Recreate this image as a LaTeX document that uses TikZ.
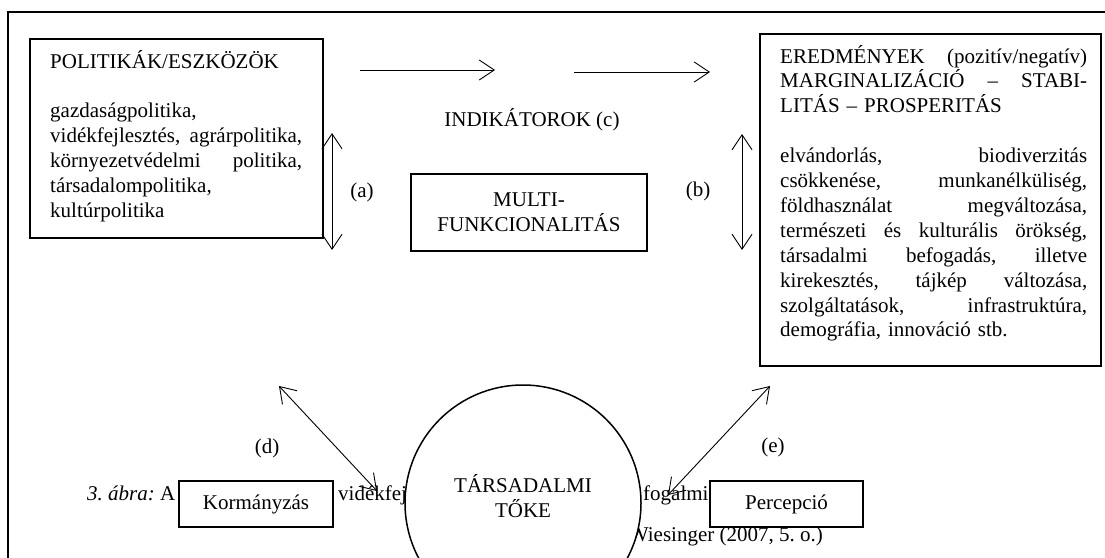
\documentclass[tikz,border=0pt]{standalone}
\usepackage{fontspec}
\setmainfont{Liberation Serif}
\usetikzlibrary{arrows.meta}
\newcommand{\jline}[2]{\makebox[#1][l]{#2}}
\begin{document}
\begin{tikzpicture}[x=1pt,y=-1pt,
  txt/.style={font=\fontsize{21}{24.9}\selectfont\frenchspacing, inner sep=0pt},
  boxline/.style={draw, line width=1.7pt, fill=white, inner sep=0pt},
  arr/.style={line width=0.9pt, -{Straight Barb[length=15pt,width=20pt]}},
  darr/.style={line width=0.9pt, {Straight Barb[length=15pt,width=20pt]}-{Straight Barb[length=15pt,width=20pt]}}]
\useasboundingbox (0,0) rectangle (1105,557);
\fill[white] (0,0) rectangle (1105,557);
% outer frame
\draw[line width=1.8pt] (8,562) -- (8,12) -- (1110,12);
% caption showing behind the shapes
\node[txt, anchor=base west] (cap1) at (87,500) {\textit{3. ábra:} A};
\node[txt, anchor=base west] (cap2) at (338,500) {vidékfej};
\node[txt, anchor=base west] (cap3) at (643,500) {fogalmi};
\node[txt, anchor=base east] (cap4) at (823,541) {Wiesinger (2007, 5. o.)};
% social capital circle
\node[circle, draw, line width=1.5pt, fill=white, minimum size=236pt, inner sep=0pt] (tok) at (523,503) {};
\node[txt, align=center] (toktext) at (523,496.5) {TÁRSADALMI\\TŐKE};
% left box
\node[boxline, anchor=north west, minimum width=293pt, minimum height=199pt] (pol) at (29,38) {};
\node[txt, anchor=base west, text width=262pt, align=left] (poltext) at (50,68)
 {\mbox{POLITIKÁK/ESZKÖZÖK}\\[24.9pt]
  \mbox{gazdaságpolitika,}\\
  \jline{252pt}{vidékfejlesztés,\hfill agrárpolitika,}\\
  \jline{252pt}{környezetvédelmi\hfill politika,}\\
  \mbox{társadalompolitika,}\\
  \mbox{kultúrpolitika}};
% right box
\node[boxline, anchor=north west, minimum width=341pt, minimum height=332pt] (ered) at (759,33) {};
\node[txt, anchor=base west, text width=315pt, align=left] (eredtext) at (780,63)
 {\jline{307pt}{EREDMÉNYEK\hfill (pozitív/negatív)}\\
  \jline{307pt}{MARGINALIZÁCIÓ\hfill –\hfill STABI-}\\
  \mbox{LITÁS – PROSPERITÁS}\\[24.9pt]
  \jline{307pt}{elvándorlás,\hfill biodiverzitás}\\
  \jline{307pt}{csökkenése,\hfill munkanélküliség,}\\
  \jline{307pt}{földhasználat\hfill megváltozása,}\\
  \jline{307pt}{természeti\hfill és\hfill kulturális\hfill örökség,}\\
  \jline{307pt}{társadalmi\hfill befogadás,\hfill illetve}\\
  \jline{307pt}{kirekesztés,\hfill tájkép\hfill változása,}\\
  \jline{307pt}{szolgáltatások,\hfill infrastruktúra,}\\
  \mbox{demográfia, innováció stb.}};
% multifunctionality box
\node[boxline, minimum width=236pt, minimum height=77pt] (multi) at (529,212.5) {};
\node[txt, align=center] (multitext) at (529,212.5) {MULTI-\\FUNKCIONALITÁS};
% small boxes
\node[boxline, txt, minimum width=154pt, minimum height=46pt] (korm) at (256,504) {Kormányzás};
\node[boxline, txt, minimum width=153pt, minimum height=46pt] (perc) at (786.5,504) {Percepció};
% labels
\node[txt, anchor=base] (lc) at (532,126) {INDIKÁTOROK (c)};
\node[txt, anchor=base] (la) at (362,197) {(a)};
\node[txt, anchor=base] (lb) at (698,196) {(b)};
\node[txt, anchor=base] (ld) at (267,453) {(d)};
\node[txt, anchor=base] (le) at (773,452) {(e)};
% arrow end points
\coordinate (a1s) at (360,70);  \coordinate (a1e) at (495,70);
\coordinate (a2s) at (574,72);  \coordinate (a2e) at (710,72);
\coordinate (va1) at (332,133); \coordinate (va2) at (332,250);
\coordinate (vb1) at (742,134); \coordinate (vb2) at (742,250);
\coordinate (d1) at (279,386);  \coordinate (d2) at (377,491);
\coordinate (e1) at (770,386);  \coordinate (e2) at (668,495);
% arrows
\draw[arr] (a1s) -- (a1e);
\draw[arr] (a2s) -- (a2e);
\draw[darr] (va1) -- (va2);
\draw[darr] (vb1) -- (vb2);
\draw[darr] (d1) -- (d2);
\draw[darr] (e1) -- (e2);
\end{tikzpicture}
\end{document}
